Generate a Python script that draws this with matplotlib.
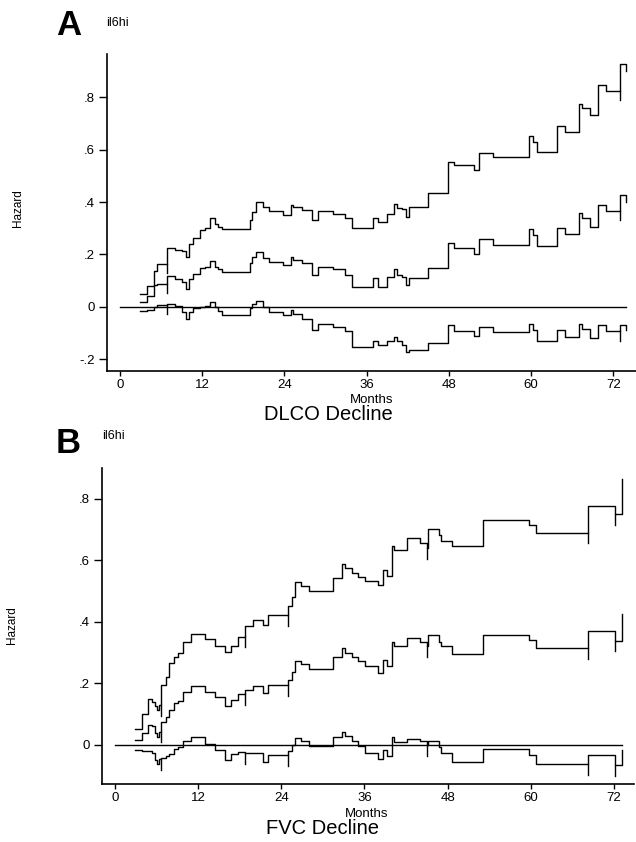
import numpy as np
import matplotlib.pyplot as plt

plt.rcParams['font.family'] = ['Liberation Sans', 'DejaVu Sans']

# ---- panel A: DLCO decline (months, hazard difference + CI) ----
months_a = [2.9, 3.9, 5.0, 5.35, 6.9, 8.0, 9.0, 9.7, 10.0, 10.7, 11.6, 12.4, 13.1, 13.8,
            14.35, 14.9, 18.9, 19.2, 19.85, 20.9, 21.8, 23.75, 24.9, 25.3, 26.5, 28.0,
            28.9, 31.1, 32.85, 33.9, 36.9, 37.6, 38.9, 40.0, 40.4, 41.1, 41.75, 42.1,
            45.0, 47.9, 48.7, 51.7, 52.4, 54.5, 59.75, 60.3, 60.9, 63.75, 64.96, 66.96,
            67.4, 68.6, 69.7, 70.95, 72.9, 73.9]
upper_a = [.049, .08, .137, .163, .224, .219, .212, .19, .239, .262, .293, .30, .338, .315,
           .305, .298, .33, .363, .40, .38, .365, .35, .389, .38, .37, .33,
           .366, .356, .34, .30, .34, .322, .356, .392, .376, .372, .344, .381,
           .435, .554, .541, .522, .588, .573, .651, .629, .592, .689, .668, .773,
           .757, .73, .846, .824, .925, .90]
mid_a = [.02, .04, .084, .088, .118, .108, .096, .07, .108, .124, .147, .153, .175, .153,
         .143, .135, .167, .19, .211, .185, .172, .16, .189, .18, .167, .122,
         .154, .144, .122, .075, .11, .075, .114, .144, .122, .114, .084, .11,
         .147, .245, .224, .202, .258, .236, .296, .274, .232, .30, .277, .357,
         .338, .303, .389, .365, .427, .40]
lower_a = [-.015, -.013, .001, .008, .01, .002, -.02, -.045, -.02, -.004, .0, .003, .02, .0,
           -.015, -.03, -.005, .01, .022, .0, -.02, -.032, -.013, -.025, -.045, -.088,
           -.063, -.075, -.093, -.151, -.128, -.144, -.131, -.116, -.128, -.144, -.17, -.164,
           -.136, -.069, -.09, -.11, -.078, -.097, -.065, -.088, -.131, -.088, -.116, -.065,
           -.085, -.12, -.069, -.093, -.069, -.088]
base_a = [0, 73.9]
censor_a = [6.9, 72.9]
yticks_a = [-.2, 0, .2, .4, .6, .8]
ylabels_a = ['-.2', '0', '.2', '.4', '.6', '.8']

# ---- panel B: FVC decline ----
months_b = [2.9, 3.85, 4.8, 5.3, 5.7, 6.0, 6.35, 6.65, 7.3, 7.8, 8.55, 9.05, 9.85, 10.9,
            13.0, 14.45, 15.8, 16.75, 17.8, 18.75, 19.95, 21.4, 22.1, 25.0, 25.5, 26.0,
            26.9, 28.0, 31.4, 32.7, 33.2, 34.2, 35.0, 36.1, 38.0, 38.7, 39.2, 40.0,
            40.3, 42.1, 44.0, 45.0, 45.1, 46.8, 47.1, 48.7, 53.05, 59.8, 60.7, 68.2,
            72.1, 73.1]
upper_b = [.051, .10, .149, .141, .125, .114, .13, .195, .222, .266, .285, .298, .336, .361,
           .344, .322, .303, .322, .352, .385, .407, .39, .423, .45, .482, .528,
           .515, .499, .542, .589, .575, .558, .547, .534, .52, .567, .55, .647,
           .634, .672, .655, .64, .701, .683, .664, .647, .732, .715, .69, .775,
           .751, .864]
mid_b = [.016, .038, .065, .06, .038, .027, .043, .076, .092, .114, .136, .144, .173, .193,
         .173, .155, .127, .146, .166, .179, .19, .168, .195, .211, .238, .274,
         .263, .246, .287, .314, .30, .287, .274, .255, .235, .276, .255, .336,
         .322, .347, .335, .32, .358, .336, .32, .296, .358, .341, .314, .37,
         .339, .425]
lower_b = [-.016, -.02, -.02, -.025, -.049, -.062, -.045, -.043, -.035, -.03, -.013, -.008, .012, .027,
           .004, -.015, -.049, -.03, -.022, -.027, -.025, -.054, -.033, -.02, .0, .022,
           .013, -.005, .025, .042, .03, .013, -.005, -.025, -.045, -.015, -.035, .025,
           .008, .02, .013, .0, .013, -.008, -.027, -.054, -.013, -.033, -.062, -.033,
           -.065, -.018]
base_b = [0, 73.1]
censor_b = [6.65, 18.75, 25.0, 45.0, 68.2, 72.1]
yticks_b = [0, .2, .4, .6, .8]
ylabels_b = ['0', '.2', '.4', '.6', '.8']

xticks = [0, 12, 24, 36, 48, 60, 72]

W, H = 636, 842
fig = plt.figure(figsize=(W / 100, H / 100), dpi=100)


def draw_panel(rect, t, curves, base, censor, yt, yl, xlim, ylim):
    ax = fig.add_axes(rect)
    t = np.array(t)
    for v in curves:
        v = np.array(v)
        ax.step(t, v, where='post', color='black', lw=1.0)
        # small censoring ticks
        for c in censor:
            i = np.searchsorted(t, c, side='right') - 1
            lo = v[i] if i < 1 or t[i] != c else min(v[i], v[i - 1])
            ax.plot([c, c], [lo - 0.035, lo], color='black', lw=1.0)
    ax.plot(base, [0, 0], color='black', lw=1.0)
    ax.set_xlim(*xlim)
    ax.set_ylim(*ylim)
    ax.set_xticks(xticks)
    ax.set_yticks(yt)
    ax.set_yticklabels(yl)
    for s in ('top', 'right'):
        ax.spines[s].set_visible(False)
    for s in ('left', 'bottom'):
        ax.spines[s].set_linewidth(1.2)
    ax.tick_params(axis='y', direction='out', length=6, width=1, pad=3, labelsize=9.5)
    ax.tick_params(axis='x', direction='out', length=3.5, width=1, pad=2, labelsize=9.5)
    ax.patch.set_alpha(0)
    return ax


def px(x, y):
    return x / W, 1 - y / H


# panel A
draw_panel([107 / W, 1 - 371 / H, (636 - 107) / W, (371 - 54) / H],
           months_a, (upper_a, mid_a, lower_a), base_a, censor_a,
           yticks_a, ylabels_a, (-1.9, 75.3), (-0.244, 0.964))
fig.text(*px(56, 35), 'A', fontsize=25, fontweight='bold', va='baseline')
fig.text(*px(106, 23), 'il6hi', fontsize=9, va='center')
fig.text(*px(18, 208), 'Hazard', fontsize=8.5, rotation=90, ha='center', va='center')
fig.text(*px(372, 403), 'Months', fontsize=9.5, ha='center', va='baseline')
fig.text(*px(328, 415), 'DLCO Decline', fontsize=14.5, ha='center', va='center')

# panel B
draw_panel([102 / W, 1 - 784 / H, (634 - 102) / W, (784 - 468) / H],
           months_b, (upper_b, mid_b, lower_b), base_b, censor_b,
           yticks_b, ylabels_b, (-1.88, 74.9), (-0.127, 0.90))
fig.text(*px(56, 453), 'B', fontsize=25, fontweight='bold', va='baseline')
fig.text(*px(102, 436), 'il6hi', fontsize=9, va='center')
fig.text(*px(12, 625), 'Hazard', fontsize=8.5, rotation=90, ha='center', va='center')
fig.text(*px(367, 817), 'Months', fontsize=9.5, ha='center', va='baseline')
fig.text(*px(322, 829), 'FVC Decline', fontsize=14.5, ha='center', va='center')

fig.savefig('out.png', dpi=100, facecolor='white')
